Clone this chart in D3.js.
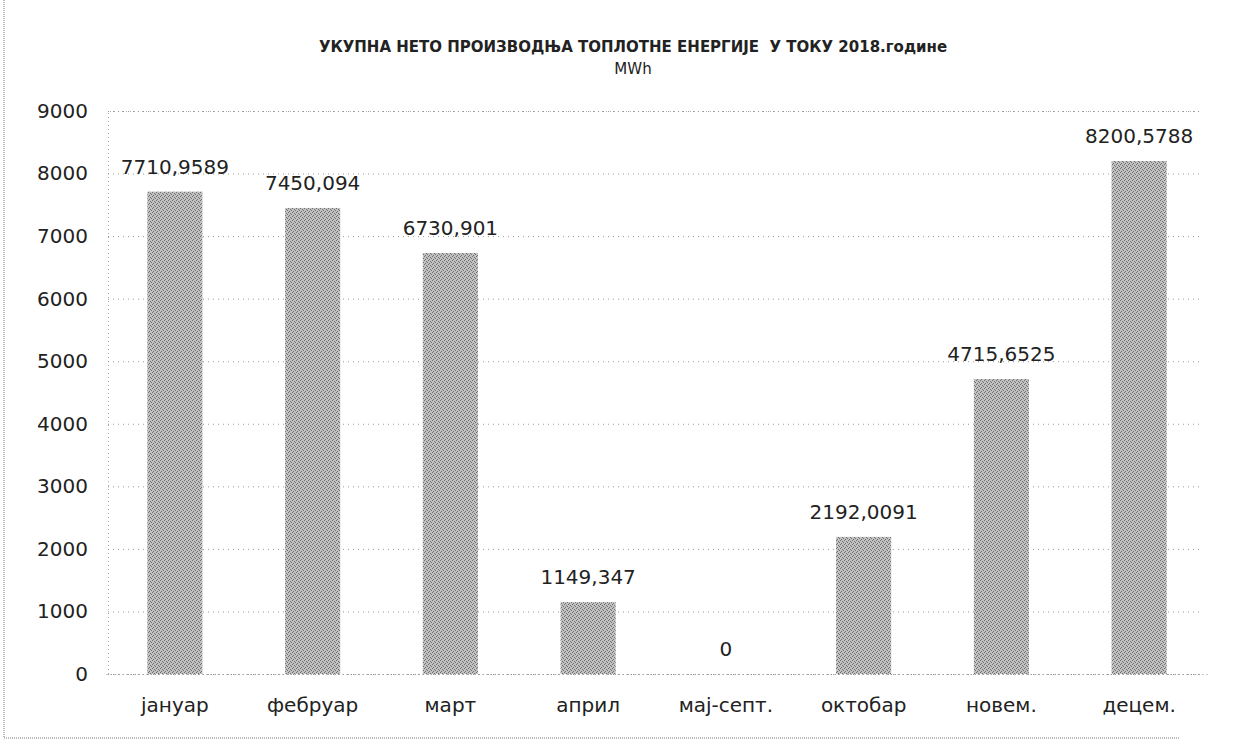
<!DOCTYPE html>
<html>
<head>
<meta charset="utf-8">
<script src="https://cdn.jsdelivr.net/npm/d3@7"></script>
<style>
  body { margin: 0; background: #fff; }
  text { font-family: "DejaVu Sans", sans-serif; fill: #222; }
</style>
</head>
<body>
<svg id="chart"></svg>
<script>
var months = ["јануар", "фебруар", "март", "април", "мај-септ.", "октобар", "новем.", "децем."];
var values = [7710.9589, 7450.094, 6730.901, 1149.347, 0, 2192.0091, 4715.6525, 8200.5788];
var valueLabels = ["7710,9589", "7450,094", "6730,901", "1149,347", "0", "2192,0091", "4715,6525", "8200,5788"];
var yTicks = [0, 1000, 2000, 3000, 4000, 5000, 6000, 7000, 8000, 9000];

var svgWidth = 1238;
var svgHeight = 744;
var svg = d3.select("#chart").attr("width", svgWidth).attr("height", svgHeight);

var x = d3.scaleBand().domain(months).range([106, 1208]).paddingInner(0.6).paddingOuter(0.3);
var y = d3.scaleLinear().domain([0, 9000]).range([674, 111]);

// bar texture, like the scanned grey fill
var pat = svg.append("defs").append("pattern")
  .attr("id", "grain")
  .attr("width", 4).attr("height", 4)
  .attr("patternUnits", "userSpaceOnUse");
pat.append("rect").attr("width", 4).attr("height", 4).attr("fill", "#c2c2c2");
[[0, 0], [2, 1], [1, 3], [3, 2]].forEach(function (p) {
  pat.append("rect").attr("x", p[0]).attr("y", p[1]).attr("width", 1).attr("height", 1).attr("fill", "#6e6e6e");
});

// outer border (dotted scan edge)
svg.append("line").attr("x1", 4).attr("x2", 4).attr("y1", 0).attr("y2", 738)
  .attr("stroke", "#777").attr("stroke-dasharray", "1,1");
svg.append("line").attr("x1", 4).attr("x2", 1180).attr("y1", 738).attr("y2", 738)
  .attr("stroke", "#777").attr("stroke-dasharray", "1,1");

// title
svg.append("text").attr("x", 633).attr("y", 52).attr("text-anchor", "middle")
  .style("font-size", "15px").style("font-weight", "bold").style("white-space", "pre")
  .text("УКУПНА НЕТО ПРОИЗВОДЊА ТОПЛОТНЕ ЕНЕРГИЈЕ  У ТОКУ 2018.године");
svg.append("text").attr("x", 633).attr("y", 74).attr("text-anchor", "middle")
  .style("font-size", "15px")
  .text("MWh");

// gridlines
var yAxis = d3.axisLeft(y).tickValues(yTicks).tickFormat(d3.format("d"))
  .tickSize(-(1200 - 108)).tickPadding(20);
var yg = svg.append("g").attr("transform", "translate(108,0)").call(yAxis);
yg.select(".domain").attr("stroke", "#aaa").attr("stroke-dasharray", "1,3");
yg.selectAll(".tick line").attr("stroke", "#999").attr("stroke-dasharray", "1,4");
yg.selectAll(".tick text").style("font-size", "20px").attr("fill", "#222");

// bars
svg.append("g").selectAll("rect").data(values).enter().append("rect")
  .attr("x", function (d, i) { return x(months[i]); })
  .attr("y", function (d) { return y(d); })
  .attr("width", x.bandwidth())
  .attr("height", function (d) { return y(0) - y(d); })
  .attr("fill", "url(#grain)");

// value labels
svg.append("g").selectAll("text").data(values).enter().append("text")
  .attr("x", function (d, i) { return x(months[i]) + x.bandwidth() / 2; })
  .attr("y", function (d) { return y(d) - 18; })
  .attr("text-anchor", "middle")
  .style("font-size", "20px")
  .text(function (d, i) { return valueLabels[i]; });

// category axis
var xAxis = d3.axisBottom(x).tickSize(0).tickPadding(24);
var xg = svg.append("g").attr("transform", "translate(0,674)").call(xAxis);
xg.select(".domain").attr("stroke", "#999").attr("stroke-dasharray", "1,3");
xg.selectAll(".tick text").style("font-size", "20px").attr("fill", "#222");
</script>
</body>
</html>
